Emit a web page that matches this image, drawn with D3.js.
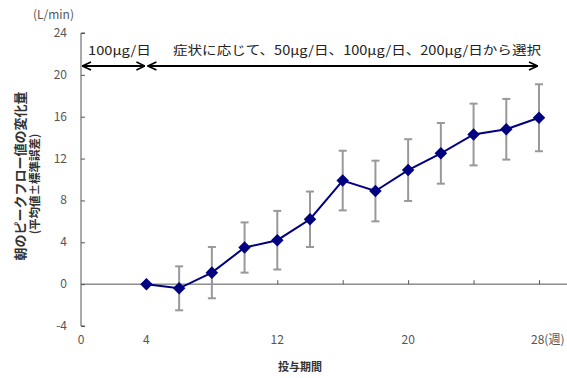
<!DOCTYPE html>
<html>
<head>
<meta charset="utf-8">
<script src="https://cdn.jsdelivr.net/npm/d3@7"></script>
<style>
  body { margin: 0; background: #fff; }
  svg { display: block; font-family: "Noto Sans CJK JP", "Noto Sans", sans-serif; }
  .tick-label { font-size: 12px; fill: #555; }
</style>
</head>
<body>
<svg id="chart" width="567" height="378"></svg>
<script>
// data
const weeks = [4, 6, 8, 10, 12, 14, 16, 18, 20, 22, 24, 26, 28];
const means = [0, -0.4, 1.1, 3.5, 4.2, 6.2, 9.9, 8.9, 10.9, 12.5, 14.3, 14.8, 15.9];
const errs  = [0, 2.1, 2.45, 2.4, 2.8, 2.65, 2.85, 2.9, 2.95, 2.9, 2.95, 2.9, 3.2];
const yTicks = [-4, 0, 4, 8, 12, 16, 20, 24];
const xLabels = [0, 4, 12, 20, 28];
const xMinorTicks = [4, 8, 12, 16, 20, 24, 28];
const phases = [
  { from: 0, to: 4, label: "100μg/日" },
  { from: 4, to: 28, label: "症状に応じて、50μg/日、100μg/日、200μg/日から選択" }
];

const svg = d3.select("#chart");

const x = d3.scaleLinear().domain([0, 28]).range([81, 539]);
const y = d3.scaleLinear().domain([-4, 24]).range([326, 33]);

// y axis
const yAxis = d3.axisRight(y).tickValues(yTicks).tickSize(4).tickFormat("");
const yg = svg.append("g").attr("transform", "translate(" + x(0) + ",0)").call(yAxis);
yg.select(".domain").attr("stroke", "#555").attr("d", "M4," + y(24) + "H0V" + y(-4) + "H4");
yg.selectAll(".tick line").attr("stroke", "#555");

svg.selectAll(".ylab")
  .data(yTicks)
  .enter()
  .append("text")
  .attr("class", "tick-label")
  .attr("x", 67)
  .attr("y", d => y(d) + 4)
  .attr("text-anchor", "end")
  .text(d => d);

svg.append("text")
  .attr("class", "tick-label")
  .attr("x", 74)
  .attr("y", 19)
  .attr("text-anchor", "end")
  .text("(L/min)");

// x axis along zero line
const xAxis = d3.axisTop(x).tickValues(xMinorTicks).tickSize(4).tickFormat("");
const xg = svg.append("g").attr("transform", "translate(0," + y(0) + ")").call(xAxis);
xg.select(".domain").attr("stroke", "#555").attr("d", "M" + x(0) + ",0H567");
xg.selectAll(".tick line").attr("stroke", "#555");

svg.selectAll(".xlab")
  .data(xLabels)
  .enter()
  .append("text")
  .attr("class", "tick-label")
  .attr("x", d => d === 28 ? x(d) - 8 : x(d))
  .attr("y", 344)
  .attr("text-anchor", d => d === 28 ? "start" : "middle")
  .text(d => d === 28 ? "28(週)" : d);

// axis titles
svg.append("text")
  .attr("transform", "translate(300,371)")
  .attr("text-anchor", "middle")
  .style("font-size", "11px")
  .style("font-weight", "bold")
  .attr("fill", "#333")
  .text("投与期間");

svg.append("text")
  .attr("transform", "translate(25,176) rotate(-90)")
  .attr("text-anchor", "middle")
  .style("font-size", "13px")
  .style("font-weight", "bold")
  .attr("fill", "#333")
  .text("朝のピークフロー値の変化量");

svg.append("text")
  .attr("transform", "translate(39,184) rotate(-90)")
  .attr("text-anchor", "middle")
  .style("font-size", "11.5px")
  .style("font-weight", "bold")
  .attr("fill", "#333")
  .text("(平均値±標準誤差)");

// phase arrows
const arrowY = 66;
const defs = svg.append("defs");
defs.append("marker")
  .attr("id", "arrow")
  .attr("viewBox", "0 0 10 10")
  .attr("refX", 9.5).attr("refY", 5)
  .attr("markerWidth", 5).attr("markerHeight", 5.5)
  .attr("markerUnits", "strokeWidth")
  .attr("orient", "auto-start-reverse")
  .append("path")
  .attr("d", "M1,1L9.5,5L1,9")
  .attr("fill", "none")
  .attr("stroke", "#000")
  .attr("stroke-width", 1.6);

svg.selectAll(".phase")
  .data(phases)
  .enter()
  .append("line")
  .attr("x1", d => x(d.from) + 1.5)
  .attr("x2", d => x(d.to) - 1.5)
  .attr("y1", arrowY).attr("y2", arrowY)
  .attr("stroke", "#000")
  .attr("stroke-width", 2)
  .attr("marker-start", "url(#arrow)")
  .attr("marker-end", "url(#arrow)");

svg.selectAll(".phase-label")
  .data(phases)
  .enter()
  .append("text")
  .attr("x", (d, i) => i === 0 ? 88 : 173)
  .attr("y", 55)
  .attr("textLength", (d, i) => i === 0 ? 63 : 368)
  .attr("lengthAdjust", "spacingAndGlyphs")
  .style("font-size", "12.5px")
  .attr("fill", "#222")
  .text(d => d.label);

// error bars
const pts = weeks.map((w, i) => ({ w: w, m: means[i], e: errs[i] }));
const eb = svg.append("g").attr("stroke", "#999").attr("stroke-width", 2);
pts.filter(d => d.e > 0).forEach(d => {
  eb.append("line").attr("x1", x(d.w)).attr("x2", x(d.w)).attr("y1", y(d.m - d.e)).attr("y2", y(d.m + d.e));
  eb.append("line").attr("x1", x(d.w) - 4).attr("x2", x(d.w) + 4).attr("y1", y(d.m - d.e)).attr("y2", y(d.m - d.e));
  eb.append("line").attr("x1", x(d.w) - 4).attr("x2", x(d.w) + 4).attr("y1", y(d.m + d.e)).attr("y2", y(d.m + d.e));
});

// line and markers
const line = d3.line().x(d => x(d.w)).y(d => y(d.m));
svg.append("path")
  .datum(pts)
  .attr("d", line)
  .attr("fill", "none")
  .attr("stroke", "#000080")
  .attr("stroke-width", 2);

svg.selectAll(".pt")
  .data(pts)
  .enter()
  .append("path")
  .attr("d", d3.symbol().type(d3.symbolDiamond2).size(100))
  .attr("transform", d => "translate(" + x(d.w) + "," + y(d.m) + ")")
  .attr("fill", "#000080");
</script>
</body>
</html>
